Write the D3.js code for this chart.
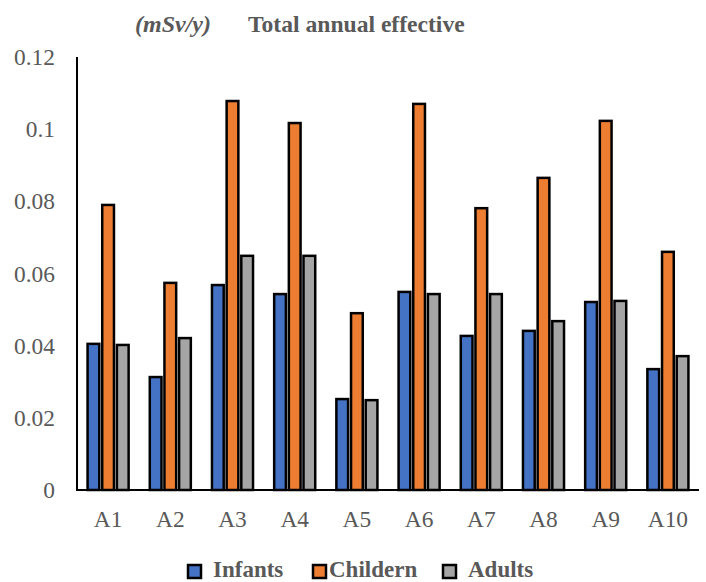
<!DOCTYPE html>
<html>
<head>
<meta charset="utf-8">
<script src="https://cdn.jsdelivr.net/npm/d3@7"></script>
<style>
  html, body { margin: 0; padding: 0; background: #fff; }
  svg { display: block; }
  svg text { font-family: "Liberation Serif", "Times New Roman", Times, "DejaVu Serif", serif; }
</style>
</head>
<body>
<svg id="chart" width="706" height="582"></svg>
<script>
const categories = ["A1","A2","A3","A4","A5","A6","A7","A8","A9","A10"];
const seriesNames = ["Infants","Childern","Adults"];
const infants  = [0.0405, 0.0313, 0.0568, 0.0543, 0.0252, 0.0549, 0.0427, 0.0441, 0.0521, 0.0335];
const childern = [0.0790, 0.0574, 0.1078, 0.1017, 0.0490, 0.1070, 0.0781, 0.0865, 0.1023, 0.0660];
const adults   = [0.0402, 0.0421, 0.0649, 0.0649, 0.0249, 0.0543, 0.0543, 0.0468, 0.0524, 0.0371];
const yTicks = [0, 0.02, 0.04, 0.06, 0.08, 0.1, 0.12];
const colors = ["#4472C4", "#ED7D31", "#A5A5A5"];

const seriesValues = [infants, childern, adults];
const rows = categories.map((c, i) => ({cat: c, vals: seriesNames.map((s, j) => ({name: s, value: seriesValues[j][i], color: colors[j]}))}));

const svg = d3.select("#chart");
const plotLeft = 77, plotRight = 699, plotTop = 57, plotBottom = 490;

const x0 = d3.scaleBand().domain(categories).range([plotLeft, plotRight]).paddingInner(0.34).paddingOuter(0.17);
const x1 = d3.scaleBand().domain(seriesNames).range([0, x0.bandwidth()]).paddingInner(0.2);
const y = d3.scaleLinear().domain([0, 0.12]).range([plotBottom, plotTop]);

const textColor = "#595959";
const font = "Liberation Serif";

// Title
svg.append("text").attr("x", 135).attr("y", 32)
  .style("font-family", font).attr("font-size", 24).attr("font-weight", "bold").attr("font-style", "italic")
  .attr("fill", textColor).text("(mSv/y)");
svg.append("text").attr("x", 248).attr("y", 32)
  .style("font-family", font).attr("font-size", 23.6).attr("font-weight", "bold")
  .attr("fill", textColor).text("Total annual effective");

// Y axis labels
const yAxis = d3.axisLeft(y).tickValues(yTicks).tickSize(0).tickPadding(22)
  .tickFormat(d => d === 0 ? "0" : String(+d.toFixed(2)));
const yg = svg.append("g").attr("transform", `translate(${plotLeft},0)`).call(yAxis);
yg.select(".domain").remove();
yg.attr("font-family", null);
yg.selectAll("text").style("font-family", font).attr("font-size", 23.4).attr("fill", textColor);

// X axis labels
const xAxis = d3.axisBottom(x0).tickSize(0).tickPadding(20);
const xg = svg.append("g").attr("transform", `translate(0,${plotBottom})`).call(xAxis);
xg.select(".domain").remove();
xg.attr("font-family", null);
xg.selectAll("text").style("font-family", font).attr("font-size", 23.4).attr("fill", textColor);

// Bars
const groups = svg.append("g").selectAll("g").data(rows).join("g")
  .attr("transform", d => `translate(${x0(d.cat)},0)`);
groups.selectAll("rect").data(d => d.vals).join("rect")
  .attr("x", d => x1(d.name))
  .attr("y", d => y(d.value))
  .attr("width", x1.bandwidth())
  .attr("height", d => y(0) - y(d.value))
  .attr("fill", d => d.color)
  .attr("stroke", "#000")
  .attr("stroke-width", 2.5);

// Axis lines
svg.append("line").attr("x1", plotLeft).attr("x2", plotLeft).attr("y1", plotTop).attr("y2", plotBottom + 1)
  .attr("stroke", "#000").attr("stroke-width", 2);
svg.append("line").attr("x1", plotLeft).attr("x2", plotRight).attr("y1", plotBottom).attr("y2", plotBottom)
  .attr("stroke", "#000").attr("stroke-width", 2);

// Legend
const legendX = [188, 313, 443];
const textOffset = [25, 16, 25];
const lg = svg.append("g").selectAll("g").data(seriesNames).join("g")
  .attr("transform", (d, i) => `translate(${legendX[i]},565)`);
lg.append("rect").attr("width", 13).attr("height", 13)
  .attr("fill", (d, i) => colors[i]).attr("stroke", "#000").attr("stroke-width", 2.5);
lg.append("text").attr("x", (d, i) => textOffset[i]).attr("y", 12)
  .style("font-family", font).attr("font-size", 23).attr("font-weight", "bold")
  .attr("fill", textColor).text(d => d);
</script>
</body>
</html>
